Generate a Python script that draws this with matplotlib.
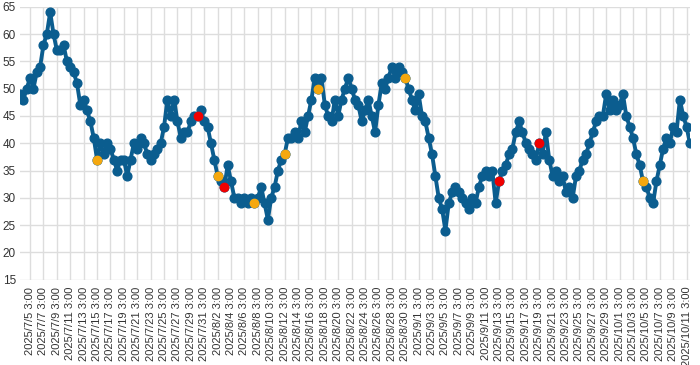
import matplotlib
matplotlib.use("Agg")
import matplotlib.pyplot as plt
import pandas as pd
import numpy as np

# ---- data -------------------------------------------------------------
start_time = "2025-07-03 15:00"
step_hours = 12
values = [
    49,
    48, 50, 52, 50, 53, 54, 58, 60, 64, 60, 57, 57, 58, 55, 54, 53,
    51, 47, 48, 46, 44, 41, 37, 40, 38, 40, 39, 37, 35, 37, 37, 34,
    37, 40, 39, 41, 40, 38, 37, 38, 39, 40, 43, 48, 45, 48, 44, 41,
    42, 42, 44, 45, 45, 46, 44, 43,
    40, 37, 34, 33, 32, 36, 33, 30, 30, 29, 30, 29, 30, 29, 30, 32,
    29, 26, 30, 32, 35, 37, 38, 41, 41, 42, 41, 44, 42, 45, 48, 52,
    50, 52, 47, 45, 44, 48, 45, 48, 50, 52, 50, 48, 47, 44, 46, 48,
    45, 42, 47, 51, 50, 52, 54, 52, 54, 53, 52, 50, 48, 46,
    49, 45, 44, 41, 38, 34, 30, 28, 24, 29, 31, 32, 31, 30, 29, 28,
    30, 29, 32, 34, 35, 34, 35, 29, 33, 35, 36, 38, 39, 42, 44, 42,
    40, 39, 38, 37, 40, 38, 42, 37, 34, 35, 33, 34, 31, 32, 30, 34,
    35, 37, 38, 40, 42, 44, 45, 45, 49, 46, 48, 46,
    47, 49, 45, 43, 41, 38, 36, 33, 32, 30, 29, 33, 36, 39, 41, 40,
    43, 42, 48, 45, 43, 40,
]

orange_times = ["2025-07-15 03:00", "2025-08-02 03:00", "2025-08-07 15:00",
                "2025-08-12 03:00", "2025-08-17 03:00", "2025-08-30 03:00",
                "2025-10-04 15:00"]
orange_values = [37, 34, 29, 38, 50, 52, 33]

red_times = ["2025-07-30 03:00", "2025-08-03 03:00", "2025-09-13 03:00",
             "2025-09-19 03:00"]
red_values = [45, 32, 33, 40]

tick_start = "2025-07-05 03:00"
tick_end = "2025-10-11 03:00"
tick_step_days = 2
y_ticks = [15, 20, 25, 30, 35, 40, 45, 50, 55, 60, 65]

# ---- plot -------------------------------------------------------------
times = pd.date_range(start_time, periods=len(values), freq=f"{step_hours}h")

fig = plt.figure(figsize=(7.0, 3.65), dpi=100)
ax = fig.add_axes([0.0286, 0.2337, 0.957, 0.7479])

main_color = "#0b5d8f"
ax.plot(times, values, color=main_color, lw=2.8, marker="o", ms=6.3,
        mfc=main_color, mec=main_color, zorder=3, solid_joinstyle="round")
ax.plot(pd.to_datetime(orange_times), orange_values, ls="none", marker="o",
        ms=6.0, color="#f5a80f", zorder=4)
ax.plot(pd.to_datetime(red_times), red_values, ls="none", marker="o",
        ms=6.0, color="#f00000", zorder=4)

ax.set_xlim(times[0], times[-1])
ax.set_ylim(15, 65)
ax.set_yticks(y_ticks)

ticks = pd.date_range(tick_start, tick_end, freq=f"{tick_step_days}D")
ax.set_xticks(ticks)
ax.set_xticklabels([f"{t.year}/{t.month}/{t.day} {t.hour}:{t.minute:02d}" for t in ticks],
                   rotation=90, fontsize=8.0, color="#333333", family="Liberation Sans")
for lab in ax.get_yticklabels():
    lab.set_fontsize(8.5)
    lab.set_family("Liberation Sans")
    lab.set_color("#333333")

ax.grid(True, color="#dddddd", lw=1.0, zorder=0)
ax.set_axisbelow(True)
for s in ax.spines.values():
    s.set_visible(False)
ax.tick_params(axis="both", length=0)
ax.tick_params(axis="x", pad=5)
ax.tick_params(axis="y", pad=3)

fig.savefig("out.png", dpi=100)
